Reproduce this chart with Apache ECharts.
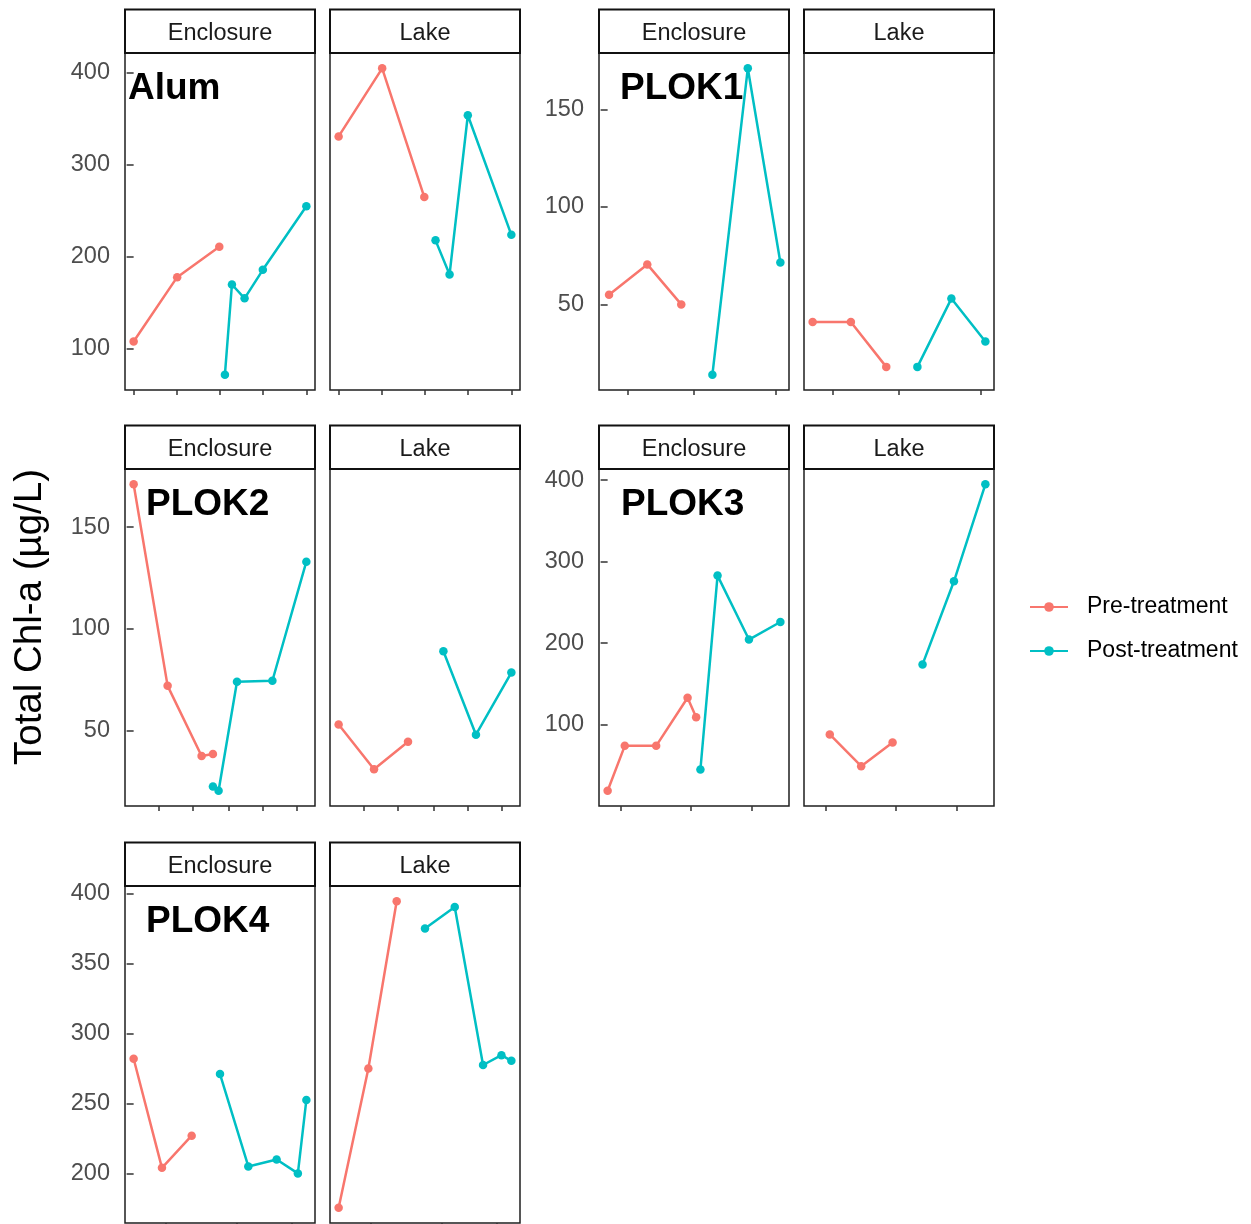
<!DOCTYPE html>
<html>
<head>
<meta charset="utf-8">
<script src="https://cdn.jsdelivr.net/npm/echarts@6/dist/echarts.min.js"></script>
<style>
  html, body { margin: 0; padding: 0; background: #ffffff; }
  #chart { width: 1251px; height: 1224px; }
</style>
</head>
<body>
<div id="chart"></div>
<script>
// Total chlorophyll-a (µg/L) by sampling day (days since first sampling),
// split into pre- and post-treatment periods for enclosure and lake sites.

// Alum
const alumEnclosurePre  = [[0, 108], [31, 178], [61, 211]];
const alumEnclosurePost = [[65, 72], [70, 170], [79, 155], [92, 186], [123, 255]];
const alumLakePre       = [[0, 331], [31, 405], [61, 265]];
const alumLakePost      = [[69, 218], [79, 181], [92, 354], [123, 224]];
const alumDayTicks      = [0, 31, 61, 92, 123];
const alumChlTicks      = [100, 200, 300, 400];

// PLOK1
const plok1EnclosurePre  = [[1, 55], [28, 70.5], [52, 50]];
const plok1EnclosurePost = [[74, 14], [99, 171], [122, 71.5]];
const plok1LakePre       = [[0, 41], [27, 41], [52, 18]];
const plok1LakePost      = [[74, 18], [98, 53], [122, 31]];
const plok1DayTicks      = [14, 61, 119];
const plok1ChlTicks      = [50, 100, 150];

// PLOK2
const plok2EnclosurePre  = [[0, 171], [24, 72], [48, 37.5], [56, 38.5]];
const plok2EnclosurePost = [[56, 22.5], [60, 20.5], [73, 74], [98, 74.5], [122, 133]];
const plok2LakePre       = [[0, 53], [25, 31], [49, 44.5]];
const plok2LakePost      = [[74, 89], [97, 48], [122, 78.5]];
const plok2DayTicks      = [18, 42, 67, 91, 115];
const plok2ChlTicks      = [50, 100, 150];

// PLOK3
const plok3EnclosurePre  = [[0, 19], [12, 74], [34, 74], [56, 133], [62, 109]];
const plok3EnclosurePost = [[65, 45], [77, 283], [99, 204.5], [121, 226]];
const plok3LakePre       = [[12, 88], [34, 49], [56, 78]];
const plok3LakePost      = [[77, 174], [99, 276], [121, 395]];
const plok3DayTicks      = [9, 58, 101];
const plok3ChlTicks      = [100, 200, 300, 400];

// PLOK4
const plok4EnclosurePre  = [[0, 282], [20, 204], [41, 227]];
const plok4EnclosurePost = [[61, 271], [81, 205], [101, 210], [116, 200], [122, 252.5]];
const plok4LakePre       = [[0, 175.5], [21, 275], [41, 394.5]];
const plok4LakePost      = [[61, 375], [82, 390.5], [102, 277.5], [115, 284.5], [122, 280.5]];
const plok4DayTicks      = [23, 73, 112];
const plok4ChlTicks      = [200, 250, 300, 350, 400];

const siteNames    = ['Enclosure', 'Lake'];
const periodNames  = ['Pre-treatment', 'Post-treatment'];
const periodColors = ['#F8766D', '#00BFC4'];

// ---- layout ----
const FONT = '"Liberation Sans", Arial, Helvetica, sans-serif';
const COL_LEFT = [125, 599];
const SITE_OFFSET = 205;
const PANEL_W = 190;
const ROW_TOP = [53, 469, 886];
const PANEL_H = 337;
const STRIP_H = 43.5;

const groups = [
  { name: 'Alum',  col: 0, row: 0, labelDx: 3,
    enclosure: [alumEnclosurePre, alumEnclosurePost], lake: [alumLakePre, alumLakePost],
    dayTicks: alumDayTicks, chlTicks: alumChlTicks },
  { name: 'PLOK1', col: 1, row: 0, labelDx: 21,
    enclosure: [plok1EnclosurePre, plok1EnclosurePost], lake: [plok1LakePre, plok1LakePost],
    dayTicks: plok1DayTicks, chlTicks: plok1ChlTicks },
  { name: 'PLOK2', col: 0, row: 1, labelDx: 21,
    enclosure: [plok2EnclosurePre, plok2EnclosurePost], lake: [plok2LakePre, plok2LakePost],
    dayTicks: plok2DayTicks, chlTicks: plok2ChlTicks },
  { name: 'PLOK3', col: 1, row: 1, labelDx: 22,
    enclosure: [plok3EnclosurePre, plok3EnclosurePost], lake: [plok3LakePre, plok3LakePost],
    dayTicks: plok3DayTicks, chlTicks: plok3ChlTicks },
  { name: 'PLOK4', col: 0, row: 2, labelDx: 21,
    enclosure: [plok4EnclosurePre, plok4EnclosurePost], lake: [plok4LakePre, plok4LakePost],
    dayTicks: plok4DayTicks, chlTicks: plok4ChlTicks }
];

// data range widened by 5% on each side
function padded(values) {
  const lo = Math.min(...values), hi = Math.max(...values);
  const pad = (hi - lo) * 0.05;
  return [lo - pad, hi + pad];
}

const grids = [], xAxes = [], yAxes = [], series = [], graphics = [];

groups.forEach(g => {
  const all = [].concat(g.enclosure[0], g.enclosure[1], g.lake[0], g.lake[1]);
  const [xMin, xMax] = padded(all.map(p => p[0]));
  const [yMin, yMax] = padded(all.map(p => p[1]));
  const top = ROW_TOP[g.row];

  [g.enclosure, g.lake].forEach((sets, s) => {
    const left = COL_LEFT[g.col] + s * SITE_OFFSET;
    const idx = grids.length;
    grids.push({
      left: left, top: top, width: PANEL_W, height: PANEL_H,
      show: true, borderColor: '#1f1f1f', borderWidth: 1.5, containLabel: false
    });
    xAxes.push({
      gridIndex: idx, type: 'value', min: xMin, max: xMax,
      splitLine: { show: false }, axisLine: { show: false },
      axisLabel: { show: false },
      axisTick: { show: true, length: 5, customValues: g.dayTicks,
                  lineStyle: { color: '#333333', width: 1.5 } }
    });
    yAxes.push({
      gridIndex: idx, type: 'value', min: yMin, max: yMax,
      splitLine: { show: false }, axisLine: { show: false },
      axisTick: { show: s === 0, length: 7, customValues: g.chlTicks,
                  lineStyle: { color: '#333333', width: 1.5 } },
      axisLabel: { show: s === 0, customValues: g.chlTicks, margin: 15,
                   padding: [4, 0, 0, 0],
                   fontSize: 23.5, color: '#4D4D4D', fontFamily: FONT }
    });
    sets.forEach((pts, p) => {
      series.push({
        type: 'line', name: periodNames[p],
        xAxisIndex: idx, yAxisIndex: idx,
        data: pts,
        symbol: 'circle', symbolSize: 8.5,
        itemStyle: { color: periodColors[p] },
        lineStyle: { color: periodColors[p], width: 2.5 },
        animation: false
      });
    });

    // facet strip
    graphics.push({
      type: 'rect', z: 10,
      shape: { x: left, y: top - STRIP_H, width: PANEL_W, height: STRIP_H },
      style: { fill: '#ffffff', stroke: '#111111', lineWidth: 2 }
    });
    graphics.push({
      type: 'text', z: 11,
      x: left + PANEL_W / 2, y: top - STRIP_H / 2 + 2.5,
      style: { text: siteNames[s], font: '23.5px ' + FONT, fill: '#1A1A1A',
               align: 'center', verticalAlign: 'middle' }
    });
  });

  // group name inside the enclosure panel
  graphics.push({
    type: 'text', z: 12,
    x: COL_LEFT[g.col] + g.labelDx, y: top + 36,
    style: { text: g.name, font: 'bold 37px ' + FONT, fill: '#000000',
             align: 'left', verticalAlign: 'middle' }
  });
});

// shared y-axis title
graphics.push({
  type: 'text', z: 12,
  x: 30, y: 617, rotation: Math.PI / 2,
  style: { text: 'Total Chl-a (µg/L)', font: '38.5px ' + FONT, fill: '#000000',
           align: 'center', verticalAlign: 'middle' }
});

const chart = echarts.init(document.getElementById('chart'), null, { renderer: 'canvas' });
chart.setOption({
  backgroundColor: '#ffffff',
  animation: false,
  grid: grids,
  xAxis: xAxes,
  yAxis: yAxes,
  series: series,
  graphic: graphics,
  legend: {
    orient: 'vertical', left: 1024, top: 590,
    itemWidth: 38, itemHeight: 12, itemGap: 20,
    data: periodNames,
    textStyle: { fontSize: 23, color: '#000000', fontFamily: FONT,
                 lineHeight: 24, padding: [0, 0, 0, 14] }
  }
});
</script>
</body>
</html>
